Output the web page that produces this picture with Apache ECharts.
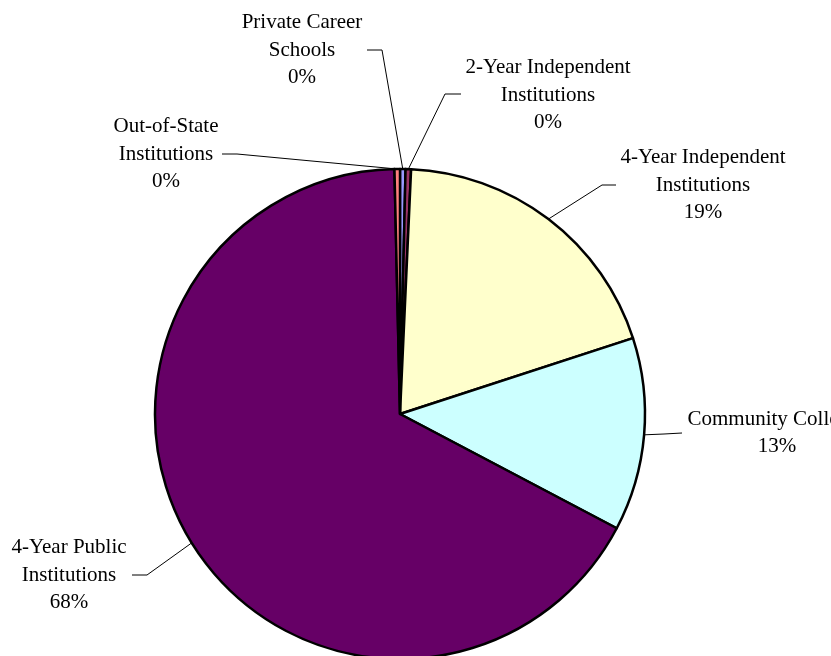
<!DOCTYPE html>
<html>
<head>
<meta charset="utf-8">
<script src="https://cdn.jsdelivr.net/npm/echarts@6/dist/echarts.min.js"></script>
<style>
  html, body { margin: 0; padding: 0; background: #fff; }
  #chart { width: 831px; height: 656px; }
</style>
</head>
<body>
<div id="chart"></div>
<script>
const categories = [
  'Private Career\nSchools',
  '2-Year Independent\nInstitutions',
  '4-Year Independent\nInstitutions',
  'Community Colleges',
  '4-Year Public\nInstitutions',
  'Out-of-State\nInstitutions'
];
const shares = [0.05, 0.05, 19.45, 12.85, 67.55, 0.05];
const sliceColors = ['#9999FF', '#993366', '#FFFFCC', '#CCFFFF', '#660066', '#FF8080'];

// where each label sits (text centre) and where its leader line bends and ends
const labelSpots = [
  { x: 302, y: 50, bend: [382, 50], end: [367, 50] },
  { x: 548, y: 95, bend: [445, 94], end: [461, 94] },
  { x: 703, y: 185, bend: [602, 185], end: [616, 185] },
  { x: 777, y: 433, bend: [664, 434], end: [682, 433] },
  { x: 69, y: 575, bend: [147, 575], end: [132, 575] },
  { x: 166, y: 154, bend: [237, 154], end: [222, 154] }
];

const chart = echarts.init(document.getElementById('chart'), null, { renderer: 'canvas' });

chart.setOption({
  backgroundColor: '#fff',
  animation: false,
  series: [{
    type: 'pie',
    center: [400, 414],
    radius: 245,
    startAngle: 90,
    clockwise: true,
    minAngle: 1.3,
    avoidLabelOverlap: false,
    emphasis: { disabled: true },
    itemStyle: { borderColor: '#000', borderWidth: 2.5 },
    label: {
      show: true,
      position: 'outside',
      color: '#000',
      fontFamily: 'Liberation Serif',
      fontSize: 21,
      lineHeight: 27.5,
      align: 'center',
      formatter: p => p.name + '\n' + Math.round(p.percent) + '%'
    },
    labelLine: {
      show: true,
      length: 10,
      length2: 10,
      lineStyle: { color: '#000', width: 1 }
    },
    labelLayout(params) {
      const spot = labelSpots[params.dataIndex];
      const start = params.labelLinePoints ? params.labelLinePoints[0] : spot.bend;
      return {
        x: spot.x,
        y: spot.y,
        align: 'center',
        verticalAlign: 'middle',
        labelLinePoints: [start, spot.bend, spot.end]
      };
    },
    data: categories.map((name, i) => ({
      name,
      value: shares[i],
      itemStyle: { color: sliceColors[i] }
    }))
  }]
});

window.addEventListener('resize', () => chart.resize());
</script>
</body>
</html>
